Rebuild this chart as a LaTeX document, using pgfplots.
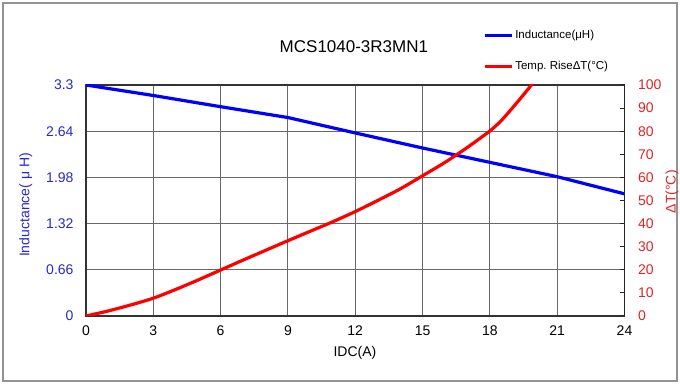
\documentclass[border=0pt]{standalone}
\usepackage{pgfplots}
\pgfplotsset{compat=1.18}
\usepackage{fontspec}
\setmainfont{Liberation Sans}
\frenchspacing
\definecolor{lblue}{RGB}{40,40,205}
\definecolor{lred}{RGB}{225,35,35}
\definecolor{gridc}{RGB}{105,105,105}
\newcommand{\fs}[1]{\fontsize{#1}{#1}\selectfont}
\begin{document}
\begin{tikzpicture}
\useasboundingbox (0,0) rectangle (680bp,385bp);
\draw[gray!85, line width=1.5bp] (3bp,4bp) rectangle (677bp,382bp);
\begin{axis}[
  at={(86bp,69bp)}, anchor=south west,
  scale only axis, width=538.5bp, height=231bp,
  xmin=0, xmax=24, ymin=0, ymax=3.3,
  xtick={0,3,...,24},
  ytick={0,0.66,1.32,1.98,2.64,3.3},
  yticklabels={0,0.66,1.32,1.98,2.64,3.3},
  /pgf/number format/assume math mode=true,
  grid=major, grid style={gridc, line width=1bp},
  axis line style={black!80, line width=1.2bp},
  tick align=inside, major tick length=0pt,
  xticklabel style={font=\fs{14bp}, black, yshift=-6bp},
  yticklabel style={font=\fs{14bp}, lblue, xshift=-9bp},
  title={MCS1040-3R3MN1},
  title style={font=\fs{17bp}, at={(rel axis cs:0.4975,1.1615)}, anchor=center, yshift=-5bp},
  xlabel={IDC(A)},
  xlabel style={font=\fs{14bp}, at={(rel axis cs:0.4995,-0.160)}, anchor=center},
  ylabel={Inductance( μ H)},
  ylabel style={font=\fs{14bp}, lblue, at={(rel axis cs:-0.112,0.4805)}, anchor=center},
]
\addplot[blue, line width=3.2bp] coordinates {
(0,3.3) (3,3.15) (6,2.99) (9,2.835) (12,2.615) (15,2.40) (18,2.195) (21,1.99) (24,1.745)
};
\end{axis}
\begin{axis}[
  at={(86bp,69bp)}, anchor=south west,
  scale only axis, width=538.5bp, height=231bp,
  xmin=0, xmax=24, ymin=0, ymax=100,
  axis x line=none, axis y line*=right,
  ytick={0,10,...,100},
  /pgf/number format/assume math mode=true,
  axis line style={black!85, line width=1.2bp},
  tick align=inside, major tick length=5bp,
  tick style={black!85, line width=1bp},
  yticklabel style={font=\fs{14bp}, lred, xshift=10bp},
  ylabel={ΔT(°C)},
  ylabel style={font=\fs{14bp}, lred, at={(rel axis cs:1.088,0.538)}, anchor=center},
  legend style={at={(rel axis cs:0.737,1.245)}, anchor=north west, draw=none, fill=none,
    font=\fs{11.5bp}, row sep=17bp, inner sep=0pt, cells={anchor=west}},
  legend image code/.code={\draw[#1] (0bp,0bp) -- (27bp,0bp);},
]
\addlegendimage{blue, line width=3.2bp}
\addlegendentry{Inductance(μH)}
\addplot[red, line width=3.2bp, smooth, tension=0.4] coordinates {
(0,0) (1,2.2) (2,4.8) (3,7.7) (4,11.5) (5,15.6) (6,19.9) (7,24.2) (8,28.4) (9,32.6)
(10,36.7) (11,40.8) (12,45.2) (13,50) (14,55) (15,60.7) (16,66.5) (17,73) (18,80.1)
(18.5,84.5) (19,90) (19.5,95.8) (19.9,100.6)
};
\addlegendentry{Temp.\ RiseΔT(°C)}
\end{axis}
\end{tikzpicture}
\end{document}
